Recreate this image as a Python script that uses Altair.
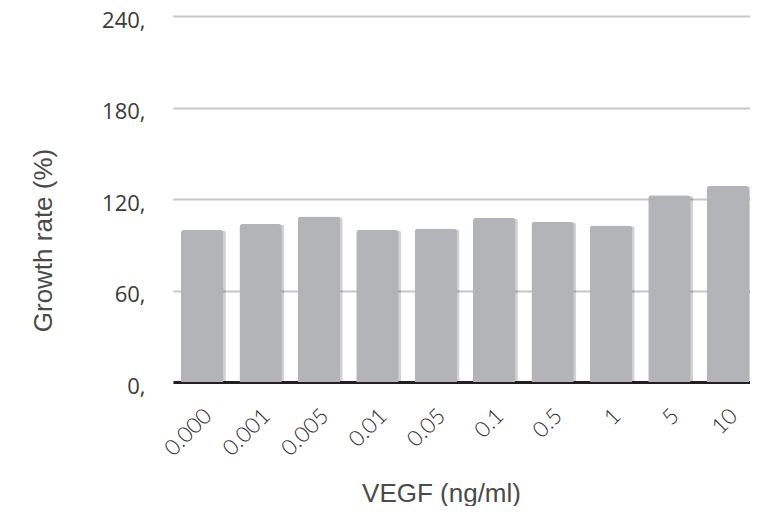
import altair as alt
import pandas as pd

categories = ["0.000", "0.001", "0.005", "0.01", "0.05", "0.1", "0.5", "1", "5", "10"]
growth = [99.7, 103.6, 108.5, 99.7, 100.5, 107.7, 105.1, 102.7, 122.4, 128.6]
y_ticks = [0, 60, 120, 180, 240]

df = pd.DataFrame({"vegf": categories, "growth": growth})

xscale = alt.Scale(paddingInner=0.274, paddingOuter=0.077, align=0.89)
yscale = alt.Scale(domain=[0, 240], nice=False)

x_enc = alt.X(
    "vegf:N", sort=categories, scale=xscale,
    axis=alt.Axis(
        title="VEGF (ng/ml)", titleFont="Liberation Sans", titleFontSize=26,
        titleFontWeight="normal", titleColor="#4a4a4a",
        titleX=268, titleY=111, titleBaseline="middle", titleAnchor="start", titleAlign="center",
        labelAngle=-45, labelAlign="right", labelBaseline="middle",
        labelFont="Lato", labelFontWeight=300, labelFontSize=22, labelColor="#2e2e2e",
        labelPadding=30, labelOffset=6,
        ticks=False, tickSize=0, domain=True, domainColor="#231f20", domainWidth=3,
        grid=False,
    ),
)

y_enc = alt.Y(
    "growth:Q", scale=yscale,
    axis=alt.Axis(
        title="Growth rate (%)", titleFont="Liberation Sans", titleFontSize=26,
        titleFontWeight="normal", titleColor="#4a4a4a",
        titleX=-130, titleY=224, titleAngle=-90, titleBaseline="middle", titleAlign="center",
        values=y_ticks, labelExpr="datum.label + ','",
        labelFont="Open Sans", labelFontSize=22, labelColor="#3a3a3a", labelPadding=28,
        labelOffset=4,
        ticks=False, tickSize=0, domain=False,
        grid=True, gridColor="#c6c6c6", gridWidth=2,
    ),
)

shadow = alt.Chart(df).mark_bar(
    color="#000000", opacity=0.18, xOffset=2.5, yOffset=1,
    cornerRadiusTopLeft=3, cornerRadiusTopRight=3,
).encode(x=x_enc, y=y_enc)

bars = alt.Chart(df).mark_bar(
    color="#b3b4b8", cornerRadiusTopLeft=3, cornerRadiusTopRight=3,
).encode(x=x_enc, y=y_enc)

chart = alt.layer(shadow, bars).properties(
    width=577, height=366,
    view=alt.ViewBackground(stroke="transparent", strokeWidth=0),
    autosize=alt.AutoSizeParams(type="none"),
    padding={"left": 165, "top": 8, "right": 0, "bottom": 124},
).configure_view(
    strokeWidth=0, stroke="transparent"
).configure_axisX(grid=False).configure(background="white")

chart.save("out.html", embed_options={"renderer": "svg", "actions": False})
